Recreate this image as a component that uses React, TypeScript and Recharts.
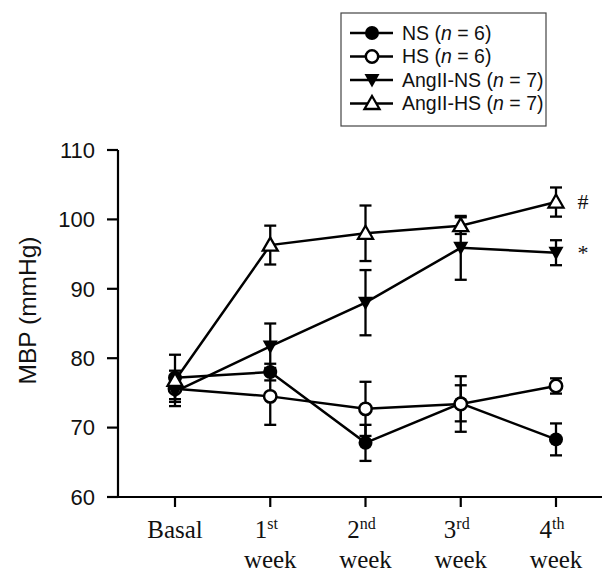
import { LineChart, Line, XAxis, YAxis, ErrorBar, LabelList } from 'recharts'

const weeks = ['Basal', '1', '2', '3', '4']
const weekSup = ['', 'st', 'nd', 'rd', 'th']
const yTicks = [60, 70, 80, 90, 100, 110]

const ns = [77.2, 78.0, 67.8, 73.5, 68.3]
const nsErr = [1.0, 1.2, 2.6, 2.6, 2.3]
const hs = [75.6, 74.5, 72.7, 73.4, 76.0]
const hsErr = [1.5, 4.1, 3.9, 4.0, 1.1]
const angNs = [75.2, 81.7, 88.0, 95.9, 95.2]
const angNsErr = [1.5, 3.3, 4.7, 4.6, 1.8]
const angHs = [76.8, 96.3, 98.0, 99.1, 102.5]
const angHsErr = [3.7, 2.8, 4.0, 1.2, 2.1]

const angNsMark = ['', '', '', '', '*']
const angHsMark = ['', '', '', '', '#']

const seriesNames = ['NS', 'HS', 'AngII-NS', 'AngII-HS']
const seriesN = [6, 6, 7, 7]

const data = weeks.map((w, i) => ({
  name: w,
  ns: ns[i],
  nsErr: nsErr[i],
  hs: hs[i],
  hsErr: hsErr[i],
  angNs: angNs[i],
  angNsErr: angNsErr[i],
  angNsMark: angNsMark[i],
  angHs: angHs[i],
  angHsErr: angHsErr[i],
  angHsMark: angHsMark[i],
}))

const SANS = '"Liberation Sans", Arial, sans-serif'
const SERIF = '"Liberation Serif", "Times New Roman", serif'

type Shape = 'filledCircle' | 'openCircle' | 'downTri' | 'upTri'
const shapes: Shape[] = ['filledCircle', 'openCircle', 'downTri', 'upTri']

function Marker({ cx, cy, shape }: { cx: number; cy: number; shape: Shape }) {
  if (shape === 'filledCircle') return <circle cx={cx} cy={cy} r={7} fill="#000" />
  if (shape === 'openCircle')
    return <circle cx={cx} cy={cy} r={6.2} fill="#fff" stroke="#000" strokeWidth={2.5} />
  if (shape === 'downTri')
    return <path d={`M${cx - 7.5},${cy - 6} L${cx + 7.5},${cy - 6} L${cx},${cy + 7.5} Z`} fill="#000" />
  return (
    <path
      d={`M${cx},${cy - 7.5} L${cx + 7.5},${cy + 5.5} L${cx - 7.5},${cy + 5.5} Z`}
      fill="#fff"
      stroke="#000"
      strokeWidth={2.3}
      strokeLinejoin="miter"
    />
  )
}

const dotFor = (shape: Shape) => (props: any) => {
  const { cx, cy, index } = props
  if (cx == null || cy == null) return <g key={index} />
  return <Marker key={index} cx={cx} cy={cy} shape={shape} />
}

function WeekTick(props: any) {
  const { x, y, payload, index } = props
  const sup = weekSup[index]
  if (!sup) {
    return (
      <text x={x} y={y + 31} textAnchor="middle" fontFamily={SERIF} fontSize={25} fill="#111">
        {payload.value}
      </text>
    )
  }
  return (
    <g>
      <text x={x - 4} y={y + 31} textAnchor="middle" fontFamily={SERIF} fontSize={25} fill="#111">
        {payload.value}
        <tspan fontSize={16} dy={-9}>{sup}</tspan>
      </text>
      <text x={x} y={y + 61} textAnchor="middle" fontFamily={SERIF} fontSize={25} fill="#111">
        week
      </text>
    </g>
  )
}

const markLabel = (props: any) => {
  const { x, y, value, index } = props
  if (!value) return <g key={index} />
  return (
    <text key={index} x={x + 27} y={y + 7} textAnchor="middle" fontFamily={SERIF} fontSize={22} fill="#111">
      {value}
    </text>
  )
}

const yLabel = (props: any) => {
  const vb = props.viewBox || { x: 0, y: 150, width: 118, height: 347 }
  const cx = vb.x + 27
  const cy = vb.y + vb.height / 2 - 13
  return (
    <text
      x={cx}
      y={cy}
      transform={`rotate(-90, ${cx}, ${cy})`}
      textAnchor="middle"
      dominantBaseline="central"
      fontFamily={SANS}
      fontSize={24.5}
      fill="#111"
    >
      MBP (mmHg)
    </text>
  )
}

function LegendBox() {
  return (
    <svg width={210} height={118} style={{ position: 'absolute', left: 340, top: 12 }}>
      <rect x={1} y={1} width={205} height={113} fill="#fff" stroke="#444" strokeWidth={1.2} />
      {seriesNames.map((name, i) => {
        const cy = 21 + i * 23.5
        return (
          <g key={name}>
            <line x1={10} x2={53} y1={cy} y2={cy} stroke="#000" strokeWidth={2.4} />
            <Marker cx={32} cy={cy} shape={shapes[i]} />
            <text x={62} y={cy + 6.5} fontFamily={SANS} fontSize={19.5} fill="#111">
              {name} (<tspan fontStyle="italic">n</tspan> = {seriesN[i]})
            </text>
          </g>
        )
      })}
    </svg>
  )
}

export default function App() {
  return (
    <div style={{ position: 'absolute', left: 0, top: 0, width: 605, height: 575, background: '#fff' }}>
      <LineChart width={605} height={575} data={data} margin={{ top: 150, right: 3, bottom: 0, left: 0 }}>
        <XAxis
          dataKey="name"
          height={78}
          padding={{ left: 57, right: 46 }}
          tick={<WeekTick />}
          tickSize={10}
          tickMargin={0}
          axisLine={{ stroke: '#000', strokeWidth: 2.2 }}
          tickLine={{ stroke: '#000', strokeWidth: 2.2 }}
          interval={0}
        />
        <YAxis
          width={118}
          domain={[60, 110]}
          ticks={yTicks}
          tickSize={11}
          tickMargin={12}
          tick={{ fontFamily: SANS, fontSize: 22, fill: '#111' }}
          axisLine={{ stroke: '#000', strokeWidth: 2.2 }}
          tickLine={{ stroke: '#000', strokeWidth: 2.2 }}
          label={yLabel}
        />
        <Line dataKey="ns" stroke="#000" strokeWidth={2.5} dot={dotFor('filledCircle')} isAnimationActive={false}>
          <ErrorBar dataKey="nsErr" direction="y" width={6} stroke="#000" strokeWidth={2.3} />
        </Line>
        <Line dataKey="hs" stroke="#000" strokeWidth={2.5} dot={dotFor('openCircle')} isAnimationActive={false}>
          <ErrorBar dataKey="hsErr" direction="y" width={6} stroke="#000" strokeWidth={2.3} />
        </Line>
        <Line dataKey="angNs" stroke="#000" strokeWidth={2.5} dot={dotFor('downTri')} isAnimationActive={false}>
          <ErrorBar dataKey="angNsErr" direction="y" width={6} stroke="#000" strokeWidth={2.3} />
          <LabelList dataKey="angNsMark" content={markLabel} />
        </Line>
        <Line dataKey="angHs" stroke="#000" strokeWidth={2.5} dot={dotFor('upTri')} isAnimationActive={false}>
          <ErrorBar dataKey="angHsErr" direction="y" width={6} stroke="#000" strokeWidth={2.3} />
          <LabelList dataKey="angHsMark" content={markLabel} />
        </Line>
      </LineChart>
      <LegendBox />
    </div>
  )
}
